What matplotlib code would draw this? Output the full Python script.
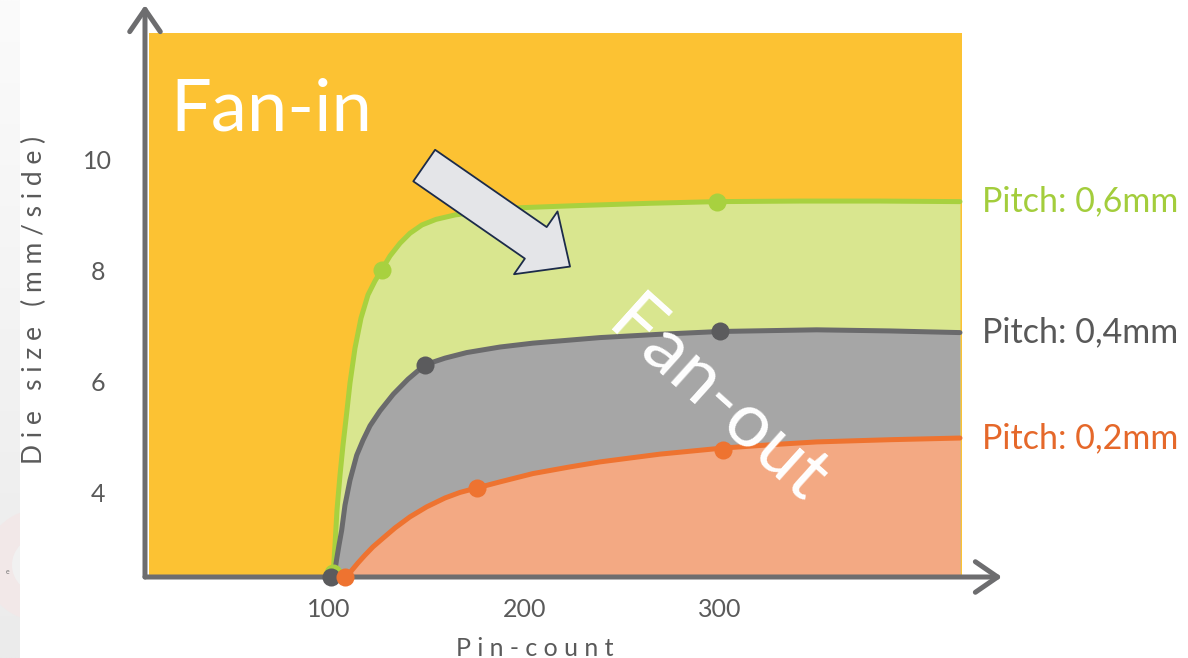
import numpy as np
import matplotlib
matplotlib.use("Agg")
import matplotlib.pyplot as plt
from matplotlib.patches import Rectangle, Circle

plt.rcParams['font.family'] = ['Lato', 'DejaVu Sans']

# ---- data -------------------------------------------------------------
x_ticks = [100, 200, 300]
y_ticks = [4, 6, 8, 10]

# traced curves (pin-count, die size)
green_x = [102.05, 103.07, 104.09, 105.63, 107.16, 109.05, 110.74, 113.30, 116.37, 119.95,
           123.53, 126.96, 131.20, 136.32, 141.43, 147.57, 154.73, 164.45, 177.24, 197.70,
           228.39, 264.19, 298.31, 340.77, 381.84, 422.76]
green_y = [2.49, 3.06, 3.69, 4.32, 4.86, 5.44, 5.98, 6.61, 7.15, 7.57,
           7.82, 8.02, 8.27, 8.50, 8.68, 8.83, 8.93, 9.01, 9.07, 9.14,
           9.18, 9.22, 9.25, 9.26, 9.26, 9.25]

gray_x = [102.56, 103.84, 105.12, 106.50, 108.18, 110.74, 114.17, 117.39, 120.97, 126.09,
          132.89, 140.41, 149.10, 159.34, 170.43, 187.47, 204.35, 238.62, 269.31, 300.00,
          349.46, 386.96, 422.76]
gray_y = [2.49, 2.79, 3.06, 3.33, 3.78, 4.23, 4.68, 4.95, 5.21, 5.48,
          5.78, 6.05, 6.31, 6.43, 6.53, 6.63, 6.70, 6.80, 6.86, 6.91,
          6.94, 6.92, 6.89]

orange_x = [109.05, 111.76, 114.83, 118.41, 122.51, 127.77, 133.76, 141.43, 149.97, 159.34,
            167.01, 175.55, 187.47, 204.35, 223.27, 238.62, 269.31, 301.53, 330.69, 349.46,
            386.96, 422.76]
orange_y = [2.49, 2.61, 2.74, 2.88, 3.03, 3.19, 3.37, 3.57, 3.75, 3.91,
            4.01, 4.09, 4.20, 4.35, 4.47, 4.56, 4.70, 4.81, 4.88, 4.92,
            4.96, 4.99]

# marked points
green_mx = [102.0, 126.96, 298.31]
green_my = [2.55, 8.02, 9.25]
gray_mx = [101.0, 149.10, 300.0]
gray_my = [2.49, 6.31, 6.91]
orange_mx = [108.2, 175.55, 301.53]
orange_my = [2.49, 4.09, 4.78]

pitch_labels = ["Pitch: 0,6mm", "Pitch: 0,4mm", "Pitch: 0,2mm"]

# ---- styling ----------------------------------------------------------
YELLOW = "#fcc233"
GREEN_LINE, GREEN_FILL, GREEN_TXT = "#a8d13f", "#d9e68f", "#a3cd3c"
GRAY_LINE, GRAY_FILL, GRAY_TXT = "#6a6a6c", "#a6a6a6", "#585858"
ORANGE_LINE, ORANGE_FILL, ORANGE_TXT = "#ee7330", "#f3a983", "#e5682a"
AXIS = "#6d6d6f"
TICK_TXT = "#5a5a5a"

XMIN, XMAX = 5.88, 445.8
YMIN, YMAX = 2.486, 12.829

fig = plt.figure(figsize=(11.88, 6.58), dpi=100)
fig.patch.set_facecolor("white")
ax = fig.add_axes([0.12205, 0.12310, 0.72391, 0.87234])
ax.set_xlim(XMIN, XMAX)
ax.set_ylim(YMIN, YMAX)
for s in ax.spines.values():
    s.set_visible(False)
ax.set_facecolor("white")

# fan-in background
ax.add_patch(Rectangle((7.93, YMIN), 423.8 - 7.93, 12.288 - YMIN,
                       facecolor=YELLOW, edgecolor="none", zorder=0.5))

# filled regions under each pitch curve
ax.fill_between(green_x, green_y, YMIN, color=GREEN_FILL, lw=0, zorder=1)
ax.fill_between(gray_x, gray_y, YMIN, color=GRAY_FILL, lw=0, zorder=2)
ax.fill_between(orange_x, orange_y, YMIN, color=ORANGE_FILL, lw=0, zorder=3)

ax.plot(green_x, green_y, color=GREEN_LINE, lw=3.6, solid_capstyle="round",
        solid_joinstyle="round", zorder=4)
ax.plot(gray_x, gray_y, color=GRAY_LINE, lw=3.6, solid_capstyle="round",
        solid_joinstyle="round", zorder=5)
ax.plot(orange_x, orange_y, color=ORANGE_LINE, lw=3.6, solid_capstyle="round",
        solid_joinstyle="round", zorder=6)

ax.plot(green_mx, green_my, "o", ms=13, color=GREEN_LINE, mec="none", zorder=7, clip_on=False)
ax.plot(gray_mx, gray_my, "o", ms=13, color="#5b5b5d", mec="none", zorder=7, clip_on=False)
ax.plot(orange_mx, orange_my, "o", ms=13, color=ORANGE_LINE, mec="none", zorder=7, clip_on=False)

# series labels at the right end of each curve
for lbl, yv, col in zip(pitch_labels, [green_y[-1], gray_y[-1], orange_y[-1]],
                        [GREEN_TXT, GRAY_TXT, ORANGE_TXT]):
    ax.text(434.0, yv, lbl, color=col, fontsize=24.5, ha="left", va="center", clip_on=False)

# region titles
ax.text(18.7, 10.54, "Fan-in", color="white", fontsize=52, ha="left", va="baseline", zorder=9)
ax.text(298.5, 5.64, "Fan-out", color="white", fontsize=55, rotation=-42,
        rotation_mode="anchor", ha="center", va="center", zorder=9)

# block arrow from fan-in toward fan-out
ax.annotate("", xy=(223.3, 8.08), xytext=(148.7, 9.90),
            arrowprops=dict(arrowstyle="simple,head_length=30,head_width=55,tail_width=27.6",
                            mutation_scale=1, fc="#e4e5e8", ec="#1c2b4a", lw=1.3,
                            shrinkA=0, shrinkB=0), zorder=8)

# axis arrows
for end in [(0, 0.9965), (0.9965, 0)]:
    ax.annotate("", xy=end, xytext=(0, 0), xycoords="axes fraction",
                arrowprops=dict(arrowstyle="->,head_length=0.8,head_width=0.55",
                                mutation_scale=20, color=AXIS, lw=3.6,
                                capstyle="round", joinstyle="round",
                                shrinkA=0, shrinkB=0), zorder=6.5, annotation_clip=False)

# ticks
ax.set_xticks(x_ticks)
ax.set_xticklabels([str(v) for v in x_ticks])
ax.set_yticks(y_ticks)
ax.set_yticklabels([str(v) for v in y_ticks])
ax.tick_params(axis="x", length=0, pad=15, labelsize=18, labelcolor=TICK_TXT)
ax.tick_params(axis="y", length=0, pad=34, labelsize=18, labelcolor=TICK_TXT)
for t in ax.get_yticklabels():
    t.set_ha("center")

# letter-spaced axis titles
def spaced(s):
    return "   ".join(" ".join(w) for w in s.split(" "))

fig.text(535 / 1188, 1 - 648 / 658, spaced("Pin-count"), color=TICK_TXT, fontsize=18,
         ha="center", va="center")
fig.text(34 / 1188, 1 - 300 / 658, spaced("Die size (mm/side)"), color=TICK_TXT, fontsize=19,
         ha="center", va="center", rotation=90)

# side panel on the far left
side = fig.add_axes([0, 0, 20 / 1188, 1])
side.set_xlim(0, 20)
side.set_ylim(658, 0)
side.axis("off")
grad = np.linspace(0, 1, 256).reshape(-1, 1)
side.imshow(grad, extent=(0, 20, 658, 0), aspect="auto",
            cmap=matplotlib.colors.LinearSegmentedColormap.from_list("s", ["#fbfbfb", "#ebebeb"]),
            zorder=0)
side.add_patch(Circle((40, 565), 56, facecolor="#f2e8e8", edgecolor="none", zorder=1))
side.add_patch(Circle((40, 565), 28, facecolor="#f1f1f1", edgecolor="none", zorder=2))
side.text(8, 572, "e", fontsize=5, color="#777777", ha="center", va="center", zorder=3)

fig.savefig("out.png", dpi=100, facecolor="white")
